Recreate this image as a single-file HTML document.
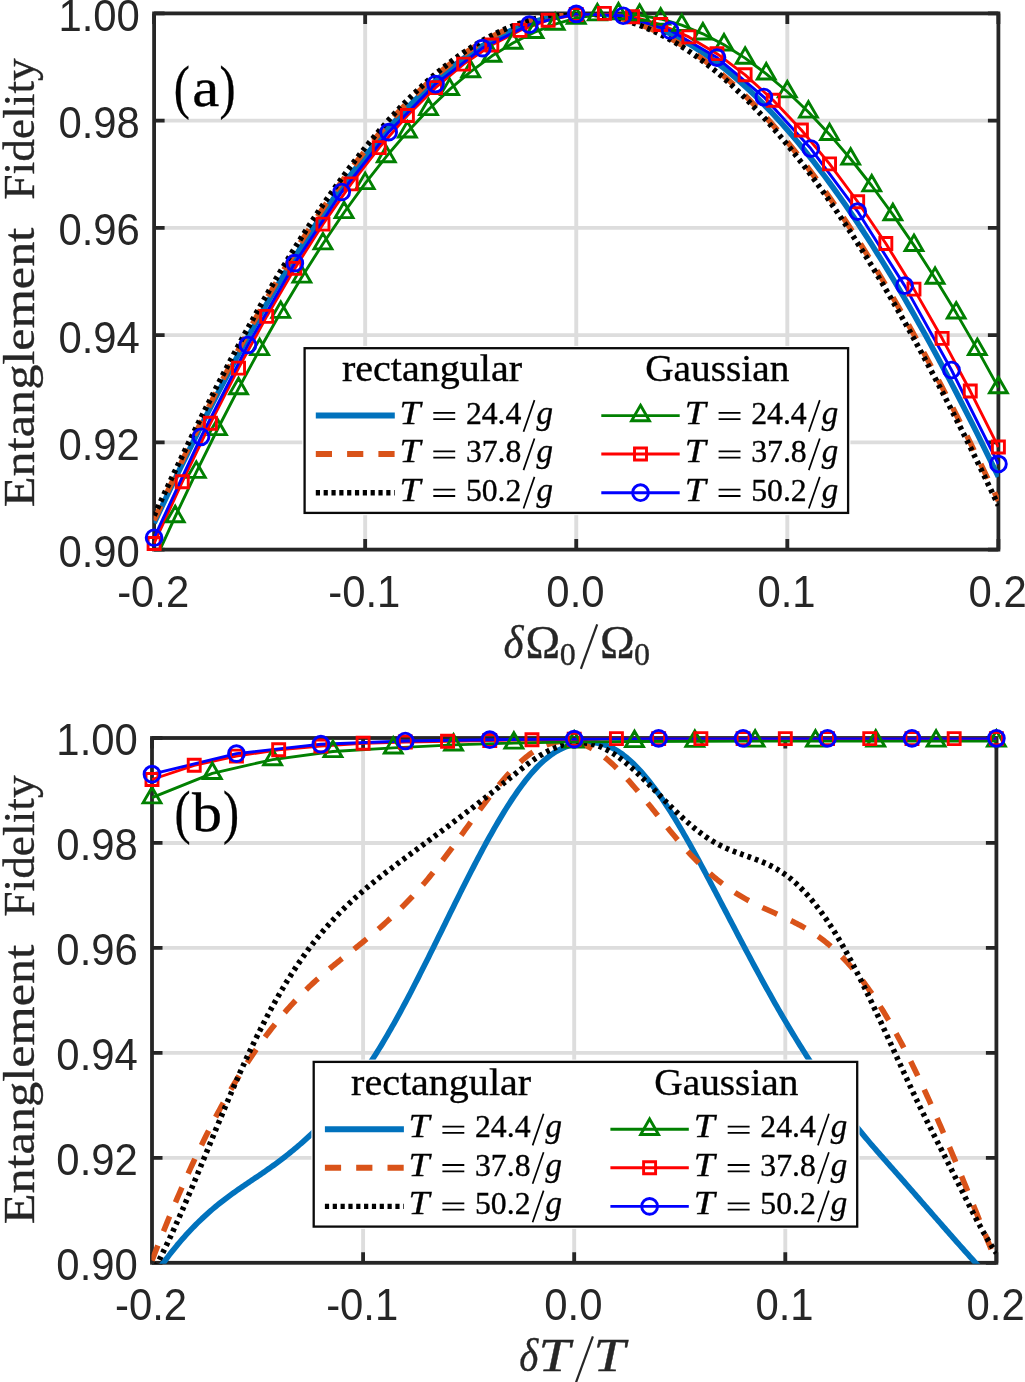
<!DOCTYPE html>
<html lang="en"><head><meta charset="utf-8"><title>Entanglement fidelity</title>
<style>html,body{margin:0;padding:0;background:#fff}svg{display:block;opacity:0.999;will-change:transform}text{white-space:pre}</style></head>
<body>
<svg width="1025" height="1382" viewBox="0 0 1025 1382">
<rect width="1025" height="1382" fill="#fff"/>
<defs>
<clipPath id="ca"><rect x="153.6" y="12.9" width="845.3" height="537.7"/></clipPath>
<clipPath id="cb"><rect x="151.5" y="737.5" width="845.4" height="526.3"/></clipPath>
</defs>
<g id="panel-a">
<path d="M365.17 13.4 V549.6 M576.25 13.4 V549.6 M787.32 13.4 V549.6 M154.1 120.64 H998.4 M154.1 227.88 H998.4 M154.1 335.12 H998.4 M154.1 442.36 H998.4" stroke="#dddddd" stroke-width="3.9" fill="none"/>
<path d="M154.1 549.6 v-10.5 M154.1 13.4 v10.5 M365.17 549.6 v-10.5 M365.17 13.4 v10.5 M576.25 549.6 v-10.5 M576.25 13.4 v10.5 M787.32 549.6 v-10.5 M787.32 13.4 v10.5 M998.4 549.6 v-10.5 M998.4 13.4 v10.5 M154.1 13.4 h10.5 M998.4 13.4 h-10.5 M154.1 120.64 h10.5 M998.4 120.64 h-10.5 M154.1 227.88 h10.5 M998.4 227.88 h-10.5 M154.1 335.12 h10.5 M998.4 335.12 h-10.5 M154.1 442.36 h10.5 M998.4 442.36 h-10.5 M154.1 549.6 h10.5 M998.4 549.6 h-10.5" stroke="#262626" stroke-width="3.8" fill="none"/>
<rect x="154.1" y="13.4" width="844.3" height="536.2" fill="none" stroke="#262626" stroke-width="3.8"/>
<g clip-path="url(#ca)" fill="none" stroke-linejoin="round">
<path d="M154.1 523.18 L159.38 511.91 L164.65 500.73 L169.93 489.64 L175.21 478.63 L180.48 467.72 L185.76 456.9 L191.04 446.17 L196.31 435.54 L201.59 425.01 L206.87 414.58 L212.15 404.26 L217.42 394.03 L222.7 383.92 L227.98 373.91 L233.25 364 L238.53 354.21 L243.81 344.53 L249.08 334.97 L254.36 325.52 L259.64 316.19 L264.91 306.97 L270.19 297.88 L275.47 288.91 L280.75 280.06 L286.02 271.33 L291.3 262.73 L296.58 254.26 L301.85 245.91 L307.13 237.69 L312.41 229.61 L317.68 221.66 L322.96 213.84 L328.24 206.15 L333.51 198.6 L338.79 191.19 L344.07 183.92 L349.34 176.78 L354.62 169.79 L359.9 162.94 L365.17 156.23 L370.45 149.66 L375.73 143.24 L381.01 136.96 L386.28 130.83 L391.56 124.85 L396.84 119.01 L402.11 113.33 L407.39 107.79 L412.67 102.41 L417.94 97.18 L423.22 92.1 L428.5 87.17 L433.77 82.4 L439.05 77.78 L444.33 73.32 L449.61 69.01 L454.88 64.86 L460.16 60.86 L465.44 57.03 L470.71 53.35 L475.99 49.84 L481.27 46.48 L486.54 43.28 L491.82 40.24 L497.1 37.36 L502.37 34.65 L507.65 32.1 L512.93 29.7 L518.2 27.48 L523.48 25.41 L528.76 23.51 L534.03 21.77 L539.31 20.19 L544.59 18.78 L549.87 17.53 L555.14 16.45 L560.42 15.53 L565.7 14.77 L570.97 14.18 L576.25 13.76 L581.53 13.5 L586.8 13.4 L592.08 13.47 L597.36 13.7 L602.63 14.1 L607.91 14.67 L613.19 15.4 L618.46 16.29 L623.74 17.35 L629.02 18.57 L634.3 19.95 L639.57 21.5 L644.85 23.22 L650.13 25.09 L655.4 27.13 L660.68 29.34 L665.96 31.7 L671.23 34.23 L676.51 36.92 L681.79 39.77 L687.06 42.78 L692.34 45.95 L697.62 49.29 L702.89 52.78 L708.17 56.43 L713.45 60.24 L718.73 64.21 L724 68.33 L729.28 72.62 L734.56 77.05 L739.83 81.65 L745.11 86.4 L750.39 91.3 L755.66 96.35 L760.94 101.56 L766.22 106.92 L771.49 112.43 L776.77 118.1 L782.05 123.91 L787.32 129.86 L792.6 135.97 L797.88 142.22 L803.16 148.62 L808.43 155.17 L813.71 161.85 L818.99 168.68 L824.26 175.66 L829.54 182.77 L834.82 190.02 L840.09 197.41 L845.37 204.94 L850.65 212.6 L855.92 220.4 L861.2 228.33 L866.48 236.39 L871.75 244.59 L877.03 252.91 L882.31 261.37 L887.59 269.95 L892.86 278.65 L898.14 287.48 L903.42 296.44 L908.69 305.51 L913.97 314.71 L919.25 324.02 L924.52 333.45 L929.8 343 L935.08 352.66 L940.35 362.43 L945.63 372.31 L950.91 382.31 L956.18 392.41 L961.46 402.61 L966.74 412.93 L972.02 423.34 L977.29 433.85 L982.57 444.47 L987.85 455.18 L993.12 465.98 L998.4 476.88" stroke="#0072bd" stroke-width="5.6"/>
<path d="M154.1 520.44 L159.38 509.04 L164.65 497.73 L169.93 486.51 L175.21 475.37 L180.48 464.34 L185.76 453.39 L191.04 442.55 L196.31 431.8 L201.59 421.16 L206.87 410.62 L212.15 400.18 L217.42 389.85 L222.7 379.63 L227.98 369.52 L233.25 359.53 L238.53 349.64 L243.81 339.88 L249.08 330.23 L254.36 320.7 L259.64 311.29 L264.91 302 L270.19 292.84 L275.47 283.8 L280.75 274.89 L286.02 266.11 L291.3 257.46 L296.58 248.94 L301.85 240.55 L307.13 232.3 L312.41 224.18 L317.68 216.2 L322.96 208.36 L328.24 200.65 L333.51 193.09 L338.79 185.67 L344.07 178.4 L349.34 171.26 L354.62 164.28 L359.9 157.44 L365.17 150.74 L370.45 144.2 L375.73 137.81 L381.01 131.56 L386.28 125.47 L391.56 119.53 L396.84 113.75 L402.11 108.12 L407.39 102.64 L412.67 97.33 L417.94 92.16 L423.22 87.16 L428.5 82.32 L433.77 77.63 L439.05 73.11 L444.33 68.74 L449.61 64.54 L454.88 60.5 L460.16 56.63 L465.44 52.91 L470.71 49.36 L475.99 45.98 L481.27 42.76 L486.54 39.7 L491.82 36.81 L497.1 34.09 L502.37 31.54 L507.65 29.15 L512.93 26.93 L518.2 24.88 L523.48 22.99 L528.76 21.27 L534.03 19.73 L539.31 18.35 L544.59 17.14 L549.87 16.1 L555.14 15.23 L560.42 14.52 L565.7 13.99 L570.97 13.63 L576.25 13.43 L581.53 13.41 L586.8 13.56 L592.08 13.87 L597.36 14.36 L602.63 15.01 L607.91 15.83 L613.19 16.83 L618.46 17.99 L623.74 19.32 L629.02 20.82 L634.3 22.48 L639.57 24.32 L644.85 26.32 L650.13 28.49 L655.4 30.82 L660.68 33.32 L665.96 35.99 L671.23 38.82 L676.51 41.82 L681.79 44.99 L687.06 48.31 L692.34 51.8 L697.62 55.46 L702.89 59.27 L708.17 63.25 L713.45 67.39 L718.73 71.69 L724 76.14 L729.28 80.76 L734.56 85.53 L739.83 90.47 L745.11 95.55 L750.39 100.8 L755.66 106.2 L760.94 111.75 L766.22 117.45 L771.49 123.31 L776.77 129.32 L782.05 135.48 L787.32 141.78 L792.6 148.24 L797.88 154.84 L803.16 161.58 L808.43 168.47 L813.71 175.51 L818.99 182.68 L824.26 190 L829.54 197.46 L834.82 205.05 L840.09 212.78 L845.37 220.65 L850.65 228.65 L855.92 236.78 L861.2 245.05 L866.48 253.44 L871.75 261.97 L877.03 270.62 L882.31 279.4 L887.59 288.3 L892.86 297.32 L898.14 306.46 L903.42 315.73 L908.69 325.11 L913.97 334.61 L919.25 344.22 L924.52 353.94 L929.8 363.77 L935.08 373.72 L940.35 383.77 L945.63 393.92 L950.91 404.18 L956.18 414.54 L961.46 425 L966.74 435.56 L972.02 446.21 L977.29 456.96 L982.57 467.8 L987.85 478.73 L993.12 489.74 L998.4 500.84" stroke="#d95319" stroke-width="5.6" stroke-dasharray="16.2 15.2"/>
<path d="M154.1 515.61 L159.38 504.23 L164.65 492.93 L169.93 481.73 L175.21 470.62 L180.48 459.6 L185.76 448.69 L191.04 437.87 L196.31 427.15 L201.59 416.54 L206.87 406.03 L212.15 395.62 L217.42 385.33 L222.7 375.15 L227.98 365.07 L233.25 355.12 L238.53 345.27 L243.81 335.55 L249.08 325.94 L254.36 316.45 L259.64 307.09 L264.91 297.85 L270.19 288.73 L275.47 279.74 L280.75 270.88 L286.02 262.15 L291.3 253.55 L296.58 245.08 L301.85 236.75 L307.13 228.55 L312.41 220.49 L317.68 212.57 L322.96 204.78 L328.24 197.14 L333.51 189.64 L338.79 182.28 L344.07 175.06 L349.34 167.99 L354.62 161.07 L359.9 154.29 L365.17 147.67 L370.45 141.19 L375.73 134.86 L381.01 128.68 L386.28 122.66 L391.56 116.79 L396.84 111.08 L402.11 105.52 L407.39 100.11 L412.67 94.87 L417.94 89.78 L423.22 84.85 L428.5 80.08 L433.77 75.47 L439.05 71.02 L444.33 66.73 L449.61 62.6 L454.88 58.64 L460.16 54.84 L465.44 51.2 L470.71 47.73 L475.99 44.42 L481.27 41.28 L486.54 38.3 L491.82 35.49 L497.1 32.85 L502.37 30.37 L507.65 28.06 L512.93 25.92 L518.2 23.95 L523.48 22.15 L528.76 20.51 L534.03 19.04 L539.31 17.75 L544.59 16.62 L549.87 15.66 L555.14 14.87 L560.42 14.25 L565.7 13.8 L570.97 13.51 L576.25 13.4 L581.53 13.46 L586.8 13.69 L592.08 14.08 L597.36 14.65 L602.63 15.38 L607.91 16.29 L613.19 17.36 L618.46 18.6 L623.74 20.01 L629.02 21.59 L634.3 23.34 L639.57 25.25 L644.85 27.33 L650.13 29.58 L655.4 32 L660.68 34.58 L665.96 37.32 L671.23 40.24 L676.51 43.31 L681.79 46.55 L687.06 49.96 L692.34 53.52 L697.62 57.25 L702.89 61.14 L708.17 65.2 L713.45 69.41 L718.73 73.78 L724 78.31 L729.28 83 L734.56 87.85 L739.83 92.85 L745.11 98.01 L750.39 103.33 L755.66 108.79 L760.94 114.41 L766.22 120.19 L771.49 126.11 L776.77 132.19 L782.05 138.41 L787.32 144.78 L792.6 151.3 L797.88 157.96 L803.16 164.77 L808.43 171.73 L813.71 178.82 L818.99 186.06 L824.26 193.43 L829.54 200.95 L834.82 208.6 L840.09 216.38 L845.37 224.31 L850.65 232.36 L855.92 240.55 L861.2 248.87 L866.48 257.31 L871.75 265.89 L877.03 274.59 L882.31 283.41 L887.59 292.36 L892.86 301.43 L898.14 310.61 L903.42 319.92 L908.69 329.34 L913.97 338.88 L919.25 348.53 L924.52 358.29 L929.8 368.16 L935.08 378.14 L940.35 388.22 L945.63 398.41 L950.91 408.7 L956.18 419.08 L961.46 429.57 L966.74 440.16 L972.02 450.83 L977.29 461.6 L982.57 472.46 L987.85 483.41 L993.12 494.44 L998.4 505.56" stroke="#000000" stroke-width="5.6" stroke-dasharray="3.7 4.1"/>
<path d="M154.1 562.53 L175.21 516.57 L196.31 472.2 L217.42 429.51 L238.53 388.56 L259.64 349.44 L280.75 312.21 L301.85 276.94 L322.96 243.69 L344.07 212.5 L365.17 183.45 L386.28 156.56 L407.39 131.89 L428.5 109.48 L449.61 89.36 L470.71 71.56 L491.82 56.1 L512.93 43.03 L534.03 32.34 L555.14 24.06 L576.25 18.19 L597.36 14.75 L618.46 13.73 L639.57 15.13 L660.68 18.95 L681.79 25.18 L702.89 33.8 L724 44.79 L745.11 58.13 L766.22 73.8 L787.32 91.75 L808.43 111.97 L829.54 134.4 L850.65 159.01 L871.75 185.75 L892.86 214.56 L913.97 245.39 L935.08 278.17 L956.18 312.86 L977.29 349.37 L998.4 387.63" stroke="#008000" stroke-width="2.9"/>
<path d="M154.1 543.49 L182.24 481.81 L210.39 423.29 L238.53 368.09 L266.67 316.4 L294.82 268.36 L322.96 224.13 L351.1 183.84 L379.25 147.59 L407.39 115.51 L435.53 87.67 L463.68 64.16 L491.82 45.04 L519.96 30.37 L548.11 20.18 L576.25 14.49 L604.39 13.4 L632.54 16.69 L660.68 24.55 L688.82 36.89 L716.97 53.66 L745.11 74.82 L773.25 100.29 L801.4 130 L829.54 163.85 L857.68 201.74 L885.83 243.54 L913.97 289.12 L942.11 338.34 L970.26 391.03 L998.4 447.02" stroke="#ff0000" stroke-width="2.9"/>
<path d="M154.1 537.74 L201.01 436.79 L247.91 344.99 L294.82 263.17 L341.72 192.01 L388.63 132.14 L435.53 84.05 L482.44 48.13 L529.34 24.67 L576.25 13.85 L623.16 15.76 L670.06 30.36 L716.97 57.54 L763.87 97.05 L810.78 148.54 L857.68 211.59 L904.59 285.63 L951.49 370.01 L998.4 463.98" stroke="#0000ff" stroke-width="2.9"/>
</g>
<g fill="none" stroke-width="2.9" stroke-linejoin="miter">
<path d="M175.21 506.27 L184.13 521.72 L166.29 521.72 Z M196.31 461.9 L205.23 477.35 L187.4 477.35 Z M217.42 419.21 L226.34 434.66 L208.5 434.66 Z M238.53 378.26 L247.45 393.71 L229.61 393.71 Z M259.64 339.14 L268.56 354.59 L250.72 354.59 Z M280.75 301.91 L289.66 317.36 L271.83 317.36 Z M301.85 266.64 L310.77 282.09 L292.93 282.09 Z M322.96 233.39 L331.88 248.84 L314.04 248.84 Z M344.07 202.2 L352.99 217.65 L335.15 217.65 Z M365.17 173.15 L374.09 188.6 L356.26 188.6 Z M386.28 146.26 L395.2 161.71 L377.36 161.71 Z M407.39 121.59 L416.31 137.04 L398.47 137.04 Z M428.5 99.18 L437.42 114.63 L419.58 114.63 Z M449.61 79.06 L458.52 94.51 L440.69 94.51 Z M470.71 61.26 L479.63 76.71 L461.79 76.71 Z M491.82 45.8 L500.74 61.25 L482.9 61.25 Z M512.93 32.73 L521.85 48.18 L504.01 48.18 Z M534.03 22.04 L542.95 37.49 L525.12 37.49 Z M555.14 13.76 L564.06 29.21 L546.22 29.21 Z M576.25 7.89 L585.17 23.34 L567.33 23.34 Z M597.36 4.45 L606.28 19.9 L588.44 19.9 Z M618.46 3.43 L627.38 18.88 L609.55 18.88 Z M639.57 4.83 L648.49 20.28 L630.65 20.28 Z M660.68 8.65 L669.6 24.1 L651.76 24.1 Z M681.79 14.88 L690.71 30.33 L672.87 30.33 Z M702.89 23.5 L711.81 38.95 L693.98 38.95 Z M724 34.49 L732.92 49.94 L715.08 49.94 Z M745.11 47.83 L754.03 63.28 L736.19 63.28 Z M766.22 63.5 L775.14 78.95 L757.3 78.95 Z M787.32 81.45 L796.24 96.9 L778.41 96.9 Z M808.43 101.67 L817.35 117.12 L799.51 117.12 Z M829.54 124.1 L838.46 139.55 L820.62 139.55 Z M850.65 148.71 L859.57 164.16 L841.73 164.16 Z M871.75 175.45 L880.67 190.9 L862.84 190.9 Z M892.86 204.26 L901.78 219.71 L883.94 219.71 Z M913.97 235.09 L922.89 250.54 L905.05 250.54 Z M935.08 267.87 L944 283.32 L926.16 283.32 Z M956.18 302.56 L965.1 318.01 L947.27 318.01 Z M977.29 339.07 L986.21 354.52 L968.37 354.52 Z M998.4 377.33 L1007.32 392.78 L989.48 392.78 Z" stroke="#008000"/>
<path d="M148.1 537.49 h12 v12 h-12 Z M176.24 475.81 h12 v12 h-12 Z M204.39 417.29 h12 v12 h-12 Z M232.53 362.09 h12 v12 h-12 Z M260.67 310.4 h12 v12 h-12 Z M288.82 262.36 h12 v12 h-12 Z M316.96 218.13 h12 v12 h-12 Z M345.1 177.84 h12 v12 h-12 Z M373.25 141.59 h12 v12 h-12 Z M401.39 109.51 h12 v12 h-12 Z M429.53 81.67 h12 v12 h-12 Z M457.68 58.16 h12 v12 h-12 Z M485.82 39.04 h12 v12 h-12 Z M513.96 24.37 h12 v12 h-12 Z M542.11 14.18 h12 v12 h-12 Z M570.25 8.49 h12 v12 h-12 Z M598.39 7.4 h12 v12 h-12 Z M626.54 10.69 h12 v12 h-12 Z M654.68 18.55 h12 v12 h-12 Z M682.82 30.89 h12 v12 h-12 Z M710.97 47.66 h12 v12 h-12 Z M739.11 68.82 h12 v12 h-12 Z M767.25 94.29 h12 v12 h-12 Z M795.4 124 h12 v12 h-12 Z M823.54 157.85 h12 v12 h-12 Z M851.68 195.74 h12 v12 h-12 Z M879.83 237.54 h12 v12 h-12 Z M907.97 283.12 h12 v12 h-12 Z M936.11 332.34 h12 v12 h-12 Z M964.26 385.03 h12 v12 h-12 Z M992.4 441.02 h12 v12 h-12 Z" stroke="#ff0000"/>
<g stroke="#0000ff"><circle cx="154.1" cy="537.74" r="7.9"/><circle cx="201.01" cy="436.79" r="7.9"/><circle cx="247.91" cy="344.99" r="7.9"/><circle cx="294.82" cy="263.17" r="7.9"/><circle cx="341.72" cy="192.01" r="7.9"/><circle cx="388.63" cy="132.14" r="7.9"/><circle cx="435.53" cy="84.05" r="7.9"/><circle cx="482.44" cy="48.13" r="7.9"/><circle cx="529.34" cy="24.67" r="7.9"/><circle cx="576.25" cy="13.85" r="7.9"/><circle cx="623.16" cy="15.76" r="7.9"/><circle cx="670.06" cy="30.36" r="7.9"/><circle cx="716.97" cy="57.54" r="7.9"/><circle cx="763.87" cy="97.05" r="7.9"/><circle cx="810.78" cy="148.54" r="7.9"/><circle cx="857.68" cy="211.59" r="7.9"/><circle cx="904.59" cy="285.63" r="7.9"/><circle cx="951.49" cy="370.01" r="7.9"/><circle cx="998.4" cy="463.98" r="7.9"/></g>
</g>
</g>
<g id="panel-b">
<path d="M363.1 738 V1262.8 M574.2 738 V1262.8 M785.3 738 V1262.8 M152 842.96 H996.4 M152 947.92 H996.4 M152 1052.88 H996.4 M152 1157.84 H996.4" stroke="#dddddd" stroke-width="3.9" fill="none"/>
<path d="M152 1262.8 v-10.5 M152 738 v10.5 M363.1 1262.8 v-10.5 M363.1 738 v10.5 M574.2 1262.8 v-10.5 M574.2 738 v10.5 M785.3 1262.8 v-10.5 M785.3 738 v10.5 M996.4 1262.8 v-10.5 M996.4 738 v10.5 M152 738 h10.5 M996.4 738 h-10.5 M152 842.96 h10.5 M996.4 842.96 h-10.5 M152 947.92 h10.5 M996.4 947.92 h-10.5 M152 1052.88 h10.5 M996.4 1052.88 h-10.5 M152 1157.84 h10.5 M996.4 1157.84 h-10.5 M152 1262.8 h10.5 M996.4 1262.8 h-10.5" stroke="#262626" stroke-width="3.8" fill="none"/>
<rect x="152" y="738" width="844.4" height="524.8" fill="none" stroke="#262626" stroke-width="3.8"/>
<g clip-path="url(#cb)" fill="none" stroke-linejoin="round">
<path d="M158 1270.47 L159.65 1268.1 L161.3 1265.78 L162.95 1263.49 L164.6 1261.23 L166.25 1259.01 L167.9 1256.83 L169.55 1254.67 L171.2 1252.56 L172.85 1250.47 L174.5 1248.42 L176.15 1246.4 L177.8 1244.41 L179.45 1242.45 L181.1 1240.53 L182.75 1238.63 L184.4 1236.77 L186.04 1234.93 L187.69 1233.13 L189.34 1231.35 L190.99 1229.6 L192.64 1227.88 L194.29 1226.19 L195.94 1224.52 L197.59 1222.88 L199.24 1221.27 L200.89 1219.68 L202.54 1218.12 L204.19 1216.58 L205.84 1215.07 L207.49 1213.58 L209.14 1212.11 L210.79 1210.67 L212.44 1209.25 L214.09 1207.85 L215.74 1206.48 L217.39 1205.12 L219.04 1203.79 L220.69 1202.47 L222.34 1201.18 L223.99 1199.91 L225.64 1198.65 L227.29 1197.41 L228.94 1196.19 L230.59 1194.98 L232.24 1193.78 L233.89 1192.6 L235.54 1191.43 L237.19 1190.27 L238.84 1189.12 L240.48 1187.98 L242.13 1186.85 L243.78 1185.72 L245.43 1184.6 L247.08 1183.48 L248.73 1182.37 L250.38 1181.26 L252.03 1180.15 L253.68 1179.04 L255.33 1177.93 L256.98 1176.82 L258.63 1175.7 L260.28 1174.58 L261.93 1173.46 L263.58 1172.33 L265.23 1171.19 L266.88 1170.04 L268.53 1168.89 L270.18 1167.73 L271.83 1166.55 L273.48 1165.36 L275.13 1164.16 L276.78 1162.95 L278.43 1161.73 L280.08 1160.49 L281.73 1159.24 L283.38 1157.98 L285.03 1156.7 L286.68 1155.41 L288.33 1154.1 L289.98 1152.78 L291.63 1151.44 L293.28 1150.08 L294.93 1148.71 L296.57 1147.33 L298.22 1145.92 L299.87 1144.5 L301.52 1143.06 L303.17 1141.61 L304.82 1140.13 L306.47 1138.64 L308.12 1137.13 L309.77 1135.59 L311.42 1134.04 L313.07 1132.47 L314.72 1130.88 L316.37 1129.26 L318.02 1127.63 L319.67 1125.97 L321.32 1124.29 L322.97 1122.59 L324.62 1120.87 L326.27 1119.12 L327.92 1117.35 L329.57 1115.56 L331.22 1113.74 L332.87 1111.89 L334.52 1110.03 L336.17 1108.13 L337.82 1106.21 L339.47 1104.27 L341.12 1102.3 L342.77 1100.3 L344.42 1098.28 L346.07 1096.22 L347.72 1094.14 L349.37 1092.04 L351.01 1089.9 L352.66 1087.73 L354.31 1085.54 L355.96 1083.31 L357.61 1081.06 L359.26 1078.78 L360.91 1076.46 L362.56 1074.11 L364.21 1071.74 L365.86 1069.33 L367.51 1066.89 L369.16 1064.41 L370.81 1061.9 L372.46 1059.36 L374.11 1056.79 L375.76 1054.18 L377.41 1051.55 L379.06 1048.88 L380.71 1046.17 L382.36 1043.44 L384.01 1040.68 L385.66 1037.89 L387.31 1035.07 L388.96 1032.22 L390.61 1029.35 L392.26 1026.45 L393.91 1023.52 L395.56 1020.56 L397.21 1017.58 L398.86 1014.58 L400.51 1011.55 L402.16 1008.5 L403.81 1005.43 L405.45 1002.34 L407.1 999.22 L408.75 996.08 L410.4 992.93 L412.05 989.75 L413.7 986.55 L415.35 983.34 L417 980.11 L418.65 976.87 L420.3 973.61 L421.95 970.34 L423.6 967.05 L425.25 963.76 L426.9 960.45 L428.55 957.14 L430.2 953.81 L431.85 950.48 L433.5 947.14 L435.15 943.8 L436.8 940.45 L438.45 937.1 L440.1 933.74 L441.75 930.39 L443.4 927.03 L445.05 923.67 L446.7 920.32 L448.35 916.96 L450 913.61 L451.65 910.27 L453.3 906.92 L454.95 903.59 L456.6 900.26 L458.25 896.94 L459.89 893.63 L461.54 890.33 L463.19 887.04 L464.84 883.77 L466.49 880.5 L468.14 877.25 L469.79 874.02 L471.44 870.8 L473.09 867.6 L474.74 864.41 L476.39 861.25 L478.04 858.1 L479.69 854.98 L481.34 851.88 L482.99 848.8 L484.64 845.74 L486.29 842.71 L487.94 839.7 L489.59 836.73 L491.24 833.78 L492.89 830.85 L494.54 827.96 L496.19 825.1 L497.84 822.27 L499.49 819.47 L501.14 816.71 L502.79 813.98 L504.44 811.29 L506.09 808.63 L507.74 806.02 L509.39 803.44 L511.04 800.9 L512.69 798.41 L514.34 795.95 L515.98 793.55 L517.63 791.18 L519.28 788.87 L520.93 786.6 L522.58 784.38 L524.23 782.21 L525.88 780.09 L527.53 778.02 L529.18 776.01 L530.83 774.05 L532.48 772.14 L534.13 770.3 L535.78 768.51 L537.43 766.78 L539.08 765.11 L540.73 763.5 L542.38 761.96 L544.03 760.48 L545.68 759.06 L547.33 757.71 L548.98 756.43 L550.63 755.21 L552.28 754.05 L553.93 752.96 L555.58 751.93 L557.23 750.95 L558.88 750.04 L560.53 749.18 L562.18 748.38 L563.83 747.63 L565.48 746.93 L567.13 746.29 L568.78 745.7 L570.42 745.16 L572.07 744.67 L573.72 744.23 L575.37 743.83 L577.02 743.48 L578.67 743.18 L580.32 742.91 L581.97 742.7 L583.62 742.52 L585.27 742.4 L586.92 742.33 L588.57 742.3 L590.22 742.32 L591.87 742.4 L593.52 742.52 L595.17 742.7 L596.82 742.94 L598.47 743.23 L600.12 743.57 L601.77 743.98 L603.42 744.44 L605.07 744.96 L606.72 745.54 L608.37 746.18 L610.02 746.89 L611.67 747.66 L613.32 748.49 L614.97 749.39 L616.62 750.35 L618.27 751.38 L619.92 752.47 L621.57 753.63 L623.22 754.84 L624.86 756.12 L626.51 757.45 L628.16 758.85 L629.81 760.3 L631.46 761.81 L633.11 763.37 L634.76 764.99 L636.41 766.66 L638.06 768.38 L639.71 770.15 L641.36 771.97 L643.01 773.85 L644.66 775.77 L646.31 777.74 L647.96 779.76 L649.61 781.82 L651.26 783.93 L652.91 786.08 L654.56 788.28 L656.21 790.53 L657.86 792.82 L659.51 795.15 L661.16 797.52 L662.81 799.93 L664.46 802.38 L666.11 804.88 L667.76 807.41 L669.41 809.97 L671.06 812.57 L672.71 815.21 L674.36 817.88 L676.01 820.58 L677.66 823.32 L679.31 826.08 L680.95 828.88 L682.6 831.7 L684.25 834.54 L685.9 837.42 L687.55 840.32 L689.2 843.24 L690.85 846.18 L692.5 849.14 L694.15 852.13 L695.8 855.13 L697.45 858.15 L699.1 861.19 L700.75 864.24 L702.4 867.31 L704.05 870.39 L705.7 873.49 L707.35 876.59 L709 879.7 L710.65 882.83 L712.3 885.96 L713.95 889.09 L715.6 892.24 L717.25 895.38 L718.9 898.53 L720.55 901.68 L722.2 904.84 L723.85 907.99 L725.5 911.15 L727.15 914.3 L728.8 917.45 L730.45 920.61 L732.1 923.76 L733.75 926.91 L735.39 930.05 L737.04 933.19 L738.69 936.33 L740.34 939.46 L741.99 942.59 L743.64 945.71 L745.29 948.83 L746.94 951.94 L748.59 955.04 L750.24 958.14 L751.89 961.23 L753.54 964.3 L755.19 967.37 L756.84 970.43 L758.49 973.48 L760.14 976.51 L761.79 979.54 L763.44 982.55 L765.09 985.55 L766.74 988.54 L768.39 991.51 L770.04 994.47 L771.69 997.42 L773.34 1000.35 L774.99 1003.26 L776.64 1006.16 L778.29 1009.04 L779.94 1011.9 L781.59 1014.75 L783.24 1017.57 L784.89 1020.39 L786.54 1023.18 L788.19 1025.96 L789.83 1028.72 L791.48 1031.47 L793.13 1034.2 L794.78 1036.91 L796.43 1039.61 L798.08 1042.29 L799.73 1044.95 L801.38 1047.6 L803.03 1050.23 L804.68 1052.85 L806.33 1055.45 L807.98 1058.04 L809.63 1060.61 L811.28 1063.17 L812.93 1065.71 L814.58 1068.23 L816.23 1070.74 L817.88 1073.23 L819.53 1075.7 L821.18 1078.16 L822.83 1080.6 L824.48 1083.03 L826.13 1085.43 L827.78 1087.82 L829.43 1090.2 L831.08 1092.55 L832.73 1094.89 L834.38 1097.21 L836.03 1099.52 L837.68 1101.8 L839.33 1104.07 L840.98 1106.32 L842.63 1108.56 L844.27 1110.77 L845.92 1112.97 L847.57 1115.14 L849.22 1117.3 L850.87 1119.44 L852.52 1121.56 L854.17 1123.66 L855.82 1125.75 L857.47 1127.81 L859.12 1129.86 L860.77 1131.88 L862.42 1133.89 L864.07 1135.88 L865.72 1137.86 L867.37 1139.82 L869.02 1141.76 L870.67 1143.7 L872.32 1145.62 L873.97 1147.53 L875.62 1149.43 L877.27 1151.33 L878.92 1153.21 L880.57 1155.09 L882.22 1156.96 L883.87 1158.83 L885.52 1160.7 L887.17 1162.56 L888.82 1164.42 L890.47 1166.28 L892.12 1168.14 L893.77 1170 L895.42 1171.86 L897.07 1173.73 L898.72 1175.6 L900.36 1177.47 L902.01 1179.34 L903.66 1181.22 L905.31 1183.1 L906.96 1184.98 L908.61 1186.86 L910.26 1188.75 L911.91 1190.64 L913.56 1192.52 L915.21 1194.41 L916.86 1196.3 L918.51 1198.19 L920.16 1200.08 L921.81 1201.98 L923.46 1203.87 L925.11 1205.76 L926.76 1207.65 L928.41 1209.54 L930.06 1211.44 L931.71 1213.33 L933.36 1215.22 L935.01 1217.11 L936.66 1219 L938.31 1220.89 L939.96 1222.77 L941.61 1224.66 L943.26 1226.54 L944.91 1228.42 L946.56 1230.3 L948.21 1232.18 L949.86 1234.06 L951.51 1235.93 L953.16 1237.8 L954.8 1239.67 L956.45 1241.54 L958.1 1243.4 L959.75 1245.26 L961.4 1247.11 L963.05 1248.96 L964.7 1250.81 L966.35 1252.65 L968 1254.49 L969.65 1256.33 L971.3 1258.16 L972.95 1259.99 L974.6 1261.81 L976.25 1263.63 L977.9 1265.44 L979.55 1267.25 L981.2 1269.05" stroke="#0072bd" stroke-width="5.6"/>
<path d="M152 1260.57 L153.69 1256.17 L155.38 1251.81 L157.08 1247.48 L158.77 1243.17 L160.46 1238.9 L162.15 1234.66 L163.85 1230.45 L165.54 1226.27 L167.23 1222.13 L168.92 1218.01 L170.61 1213.93 L172.31 1209.88 L174 1205.86 L175.69 1201.87 L177.38 1197.92 L179.07 1194 L180.77 1190.1 L182.46 1186.24 L184.15 1182.42 L185.84 1178.62 L187.54 1174.86 L189.23 1171.13 L190.92 1167.43 L192.61 1163.76 L194.3 1160.13 L196 1156.52 L197.69 1152.96 L199.38 1149.42 L201.07 1145.91 L202.77 1142.44 L204.46 1139 L206.15 1135.6 L207.84 1132.22 L209.53 1128.88 L211.23 1125.58 L212.92 1122.3 L214.61 1119.06 L216.3 1115.85 L218 1112.67 L219.69 1109.53 L221.38 1106.41 L223.07 1103.33 L224.76 1100.28 L226.46 1097.27 L228.15 1094.29 L229.84 1091.33 L231.53 1088.41 L233.22 1085.53 L234.92 1082.67 L236.61 1079.85 L238.3 1077.06 L239.99 1074.3 L241.69 1071.57 L243.38 1068.87 L245.07 1066.21 L246.76 1063.58 L248.45 1060.98 L250.15 1058.41 L251.84 1055.87 L253.53 1053.36 L255.22 1050.89 L256.92 1048.44 L258.61 1046.03 L260.3 1043.65 L261.99 1041.3 L263.68 1038.97 L265.38 1036.68 L267.07 1034.42 L268.76 1032.19 L270.45 1029.98 L272.15 1027.8 L273.84 1025.66 L275.53 1023.54 L277.22 1021.44 L278.91 1019.38 L280.61 1017.34 L282.3 1015.33 L283.99 1013.34 L285.68 1011.39 L287.37 1009.45 L289.07 1007.55 L290.76 1005.67 L292.45 1003.81 L294.14 1001.98 L295.84 1000.17 L297.53 998.39 L299.22 996.63 L300.91 994.9 L302.6 993.18 L304.3 991.5 L305.99 989.83 L307.68 988.19 L309.37 986.57 L311.07 984.97 L312.76 983.39 L314.45 981.84 L316.14 980.3 L317.83 978.79 L319.53 977.29 L321.22 975.81 L322.91 974.35 L324.6 972.9 L326.29 971.47 L327.99 970.05 L329.68 968.64 L331.37 967.25 L333.06 965.86 L334.76 964.48 L336.45 963.12 L338.14 961.76 L339.83 960.4 L341.52 959.05 L343.22 957.71 L344.91 956.37 L346.6 955.03 L348.29 953.69 L349.99 952.35 L351.68 951.01 L353.37 949.67 L355.06 948.33 L356.75 946.98 L358.45 945.63 L360.14 944.28 L361.83 942.91 L363.52 941.54 L365.22 940.16 L366.91 938.77 L368.6 937.38 L370.29 935.97 L371.98 934.55 L373.68 933.12 L375.37 931.68 L377.06 930.23 L378.75 928.76 L380.44 927.28 L382.14 925.79 L383.83 924.29 L385.52 922.77 L387.21 921.24 L388.91 919.69 L390.6 918.13 L392.29 916.55 L393.98 914.95 L395.67 913.34 L397.37 911.71 L399.06 910.07 L400.75 908.4 L402.44 906.72 L404.14 905.02 L405.83 903.3 L407.52 901.56 L409.21 899.79 L410.9 898.01 L412.6 896.21 L414.29 894.38 L415.98 892.53 L417.67 890.66 L419.37 888.77 L421.06 886.86 L422.75 884.92 L424.44 882.95 L426.13 880.96 L427.83 878.95 L429.52 876.91 L431.21 874.84 L432.9 872.75 L434.59 870.63 L436.29 868.5 L437.98 866.34 L439.67 864.17 L441.36 861.97 L443.06 859.76 L444.75 857.53 L446.44 855.29 L448.13 853.03 L449.82 850.76 L451.52 848.48 L453.21 846.19 L454.9 843.88 L456.59 841.58 L458.29 839.26 L459.98 836.94 L461.67 834.61 L463.36 832.28 L465.05 829.95 L466.75 827.62 L468.44 825.29 L470.13 822.96 L471.82 820.63 L473.52 818.3 L475.21 815.99 L476.9 813.68 L478.59 811.38 L480.28 809.08 L481.98 806.81 L483.67 804.54 L485.36 802.29 L487.05 800.06 L488.74 797.85 L490.44 795.66 L492.13 793.49 L493.82 791.34 L495.51 789.22 L497.21 787.12 L498.9 785.06 L500.59 783.02 L502.28 781.01 L503.97 779.04 L505.67 777.11 L507.36 775.21 L509.05 773.35 L510.74 771.52 L512.44 769.74 L514.13 768 L515.82 766.31 L517.51 764.67 L519.2 763.07 L520.9 761.52 L522.59 760.02 L524.28 758.57 L525.97 757.18 L527.66 755.85 L529.36 754.57 L531.05 753.35 L532.74 752.18 L534.43 751.08 L536.13 750.03 L537.82 749.04 L539.51 748.11 L541.2 747.23 L542.89 746.42 L544.59 745.66 L546.28 744.96 L547.97 744.32 L549.66 743.74 L551.36 743.22 L553.05 742.75 L554.74 742.35 L556.43 742 L558.12 741.72 L559.82 741.49 L561.51 741.32 L563.2 741.22 L564.89 741.17 L566.59 741.18 L568.28 741.26 L569.97 741.39 L571.66 741.58 L573.35 741.84 L575.05 742.15 L576.74 742.53 L578.43 742.96 L580.12 743.46 L581.81 744.02 L583.51 744.64 L585.2 745.32 L586.89 746.06 L588.58 746.86 L590.28 747.73 L591.97 748.65 L593.66 749.64 L595.35 750.68 L597.04 751.78 L598.74 752.93 L600.43 754.13 L602.12 755.39 L603.81 756.7 L605.51 758.05 L607.2 759.45 L608.89 760.9 L610.58 762.39 L612.27 763.92 L613.97 765.49 L615.66 767.1 L617.35 768.75 L619.04 770.44 L620.74 772.16 L622.43 773.91 L624.12 775.7 L625.81 777.51 L627.5 779.36 L629.2 781.23 L630.89 783.13 L632.58 785.05 L634.27 786.99 L635.96 788.96 L637.66 790.94 L639.35 792.95 L641.04 794.97 L642.73 797 L644.43 799.05 L646.12 801.11 L647.81 803.18 L649.5 805.27 L651.19 807.35 L652.89 809.45 L654.58 811.55 L656.27 813.65 L657.96 815.75 L659.66 817.86 L661.35 819.96 L663.04 822.06 L664.73 824.16 L666.42 826.25 L668.12 828.33 L669.81 830.4 L671.5 832.47 L673.19 834.52 L674.88 836.56 L676.58 838.58 L678.27 840.59 L679.96 842.58 L681.65 844.54 L683.35 846.49 L685.04 848.42 L686.73 850.32 L688.42 852.2 L690.11 854.05 L691.81 855.87 L693.5 857.66 L695.19 859.42 L696.88 861.15 L698.58 862.85 L700.27 864.52 L701.96 866.16 L703.65 867.77 L705.34 869.36 L707.04 870.91 L708.73 872.43 L710.42 873.93 L712.11 875.39 L713.81 876.83 L715.5 878.24 L717.19 879.63 L718.88 880.98 L720.57 882.31 L722.27 883.61 L723.96 884.89 L725.65 886.13 L727.34 887.36 L729.03 888.55 L730.73 889.72 L732.42 890.86 L734.11 891.98 L735.8 893.07 L737.5 894.14 L739.19 895.18 L740.88 896.2 L742.57 897.2 L744.26 898.17 L745.96 899.11 L747.65 900.04 L749.34 900.95 L751.03 901.84 L752.73 902.71 L754.42 903.57 L756.11 904.41 L757.8 905.24 L759.49 906.05 L761.19 906.86 L762.88 907.66 L764.57 908.44 L766.26 909.22 L767.96 910 L769.65 910.77 L771.34 911.54 L773.03 912.3 L774.72 913.07 L776.42 913.83 L778.11 914.6 L779.8 915.37 L781.49 916.14 L783.18 916.92 L784.88 917.71 L786.57 918.5 L788.26 919.31 L789.95 920.12 L791.65 920.95 L793.34 921.79 L795.03 922.64 L796.72 923.51 L798.41 924.4 L800.11 925.3 L801.8 926.23 L803.49 927.17 L805.18 928.14 L806.88 929.13 L808.57 930.15 L810.26 931.19 L811.95 932.25 L813.64 933.35 L815.34 934.47 L817.03 935.63 L818.72 936.82 L820.41 938.04 L822.11 939.29 L823.8 940.59 L825.49 941.91 L827.18 943.28 L828.87 944.68 L830.57 946.13 L832.26 947.61 L833.95 949.13 L835.64 950.68 L837.33 952.28 L839.03 953.92 L840.72 955.59 L842.41 957.31 L844.1 959.06 L845.8 960.85 L847.49 962.69 L849.18 964.56 L850.87 966.48 L852.56 968.44 L854.26 970.43 L855.95 972.47 L857.64 974.55 L859.33 976.67 L861.03 978.84 L862.72 981.04 L864.41 983.29 L866.1 985.58 L867.79 987.91 L869.49 990.29 L871.18 992.7 L872.87 995.16 L874.56 997.67 L876.25 1000.22 L877.95 1002.81 L879.64 1005.45 L881.33 1008.13 L883.02 1010.85 L884.72 1013.62 L886.41 1016.44 L888.1 1019.3 L889.79 1022.2 L891.48 1025.14 L893.18 1028.13 L894.87 1031.16 L896.56 1034.23 L898.25 1037.34 L899.95 1040.49 L901.64 1043.68 L903.33 1046.9 L905.02 1050.17 L906.71 1053.47 L908.41 1056.81 L910.1 1060.18 L911.79 1063.59 L913.48 1067.03 L915.18 1070.51 L916.87 1074.02 L918.56 1077.56 L920.25 1081.13 L921.94 1084.74 L923.64 1088.37 L925.33 1092.03 L927.02 1095.73 L928.71 1099.45 L930.4 1103.2 L932.1 1106.97 L933.79 1110.78 L935.48 1114.6 L937.17 1118.46 L938.87 1122.33 L940.56 1126.23 L942.25 1130.15 L943.94 1134.09 L945.63 1138.05 L947.33 1142.03 L949.02 1146.03 L950.71 1150.05 L952.4 1154.08 L954.1 1158.13 L955.79 1162.2 L957.48 1166.28 L959.17 1170.38 L960.86 1174.49 L962.56 1178.61 L964.25 1182.74 L965.94 1186.88 L967.63 1191.03 L969.33 1195.19 L971.02 1199.36 L972.71 1203.54 L974.4 1207.72 L976.09 1211.91 L977.79 1216.11 L979.48 1220.31 L981.17 1224.51 L982.86 1228.71 L984.55 1232.92 L986.25 1237.13 L987.94 1241.33 L989.63 1245.54 L991.32 1249.74 L993.02 1253.95 L994.71 1258.15 L996.4 1262.34" stroke="#d95319" stroke-width="5.6" stroke-dasharray="16.2 15.2"/>
<path d="M152 1273.5 L153.69 1270.4 L155.38 1267.23 L157.08 1264.01 L158.77 1260.73 L160.46 1257.39 L162.15 1254 L163.85 1250.55 L165.54 1247.06 L167.23 1243.52 L168.92 1239.93 L170.61 1236.3 L172.31 1232.62 L174 1228.91 L175.69 1225.15 L177.38 1221.36 L179.07 1217.54 L180.77 1213.68 L182.46 1209.79 L184.15 1205.87 L185.84 1201.93 L187.54 1197.95 L189.23 1193.96 L190.92 1189.94 L192.61 1185.91 L194.3 1181.85 L196 1177.78 L197.69 1173.7 L199.38 1169.6 L201.07 1165.5 L202.77 1161.38 L204.46 1157.26 L206.15 1153.14 L207.84 1149.01 L209.53 1144.88 L211.23 1140.76 L212.92 1136.63 L214.61 1132.51 L216.3 1128.4 L218 1124.3 L219.69 1120.21 L221.38 1116.13 L223.07 1112.06 L224.76 1108.01 L226.46 1103.98 L228.15 1099.97 L229.84 1095.98 L231.53 1092.02 L233.22 1088.08 L234.92 1084.17 L236.61 1080.29 L238.3 1076.44 L239.99 1072.62 L241.69 1068.84 L243.38 1065.1 L245.07 1061.39 L246.76 1057.71 L248.45 1054.08 L250.15 1050.47 L251.84 1046.91 L253.53 1043.38 L255.22 1039.89 L256.92 1036.43 L258.61 1033.01 L260.3 1029.63 L261.99 1026.28 L263.68 1022.98 L265.38 1019.71 L267.07 1016.47 L268.76 1013.28 L270.45 1010.12 L272.15 1007 L273.84 1003.92 L275.53 1000.88 L277.22 997.87 L278.91 994.91 L280.61 991.98 L282.3 989.09 L283.99 986.24 L285.68 983.43 L287.37 980.66 L289.07 977.93 L290.76 975.24 L292.45 972.59 L294.14 969.98 L295.84 967.4 L297.53 964.87 L299.22 962.38 L300.91 959.92 L302.6 957.5 L304.3 955.12 L305.99 952.78 L307.68 950.47 L309.37 948.2 L311.07 945.96 L312.76 943.76 L314.45 941.59 L316.14 939.45 L317.83 937.35 L319.53 935.28 L321.22 933.24 L322.91 931.22 L324.6 929.24 L326.29 927.29 L327.99 925.37 L329.68 923.47 L331.37 921.61 L333.06 919.77 L334.76 917.95 L336.45 916.16 L338.14 914.4 L339.83 912.66 L341.52 910.95 L343.22 909.26 L344.91 907.59 L346.6 905.94 L348.29 904.32 L349.99 902.71 L351.68 901.13 L353.37 899.56 L355.06 898.02 L356.75 896.49 L358.45 894.98 L360.14 893.49 L361.83 892.02 L363.52 890.56 L365.22 889.11 L366.91 887.68 L368.6 886.27 L370.29 884.87 L371.98 883.48 L373.68 882.1 L375.37 880.74 L377.06 879.39 L378.75 878.05 L380.44 876.71 L382.14 875.39 L383.83 874.08 L385.52 872.77 L387.21 871.47 L388.91 870.18 L390.6 868.9 L392.29 867.62 L393.98 866.35 L395.67 865.08 L397.37 863.81 L399.06 862.55 L400.75 861.29 L402.44 860.03 L404.14 858.78 L405.83 857.52 L407.52 856.27 L409.21 855.02 L410.9 853.76 L412.6 852.51 L414.29 851.26 L415.98 850.01 L417.67 848.75 L419.37 847.5 L421.06 846.25 L422.75 845 L424.44 843.75 L426.13 842.49 L427.83 841.24 L429.52 839.99 L431.21 838.73 L432.9 837.48 L434.59 836.22 L436.29 834.97 L437.98 833.71 L439.67 832.45 L441.36 831.19 L443.06 829.93 L444.75 828.67 L446.44 827.41 L448.13 826.14 L449.82 824.87 L451.52 823.6 L453.21 822.33 L454.9 821.06 L456.59 819.79 L458.29 818.51 L459.98 817.23 L461.67 815.95 L463.36 814.67 L465.05 813.38 L466.75 812.1 L468.44 810.8 L470.13 809.51 L471.82 808.21 L473.52 806.92 L475.21 805.61 L476.9 804.31 L478.59 803 L480.28 801.69 L481.98 800.37 L483.67 799.05 L485.36 797.73 L487.05 796.41 L488.74 795.08 L490.44 793.74 L492.13 792.4 L493.82 791.06 L495.51 789.72 L497.21 788.37 L498.9 787.01 L500.59 785.65 L502.28 784.29 L503.97 782.92 L505.67 781.55 L507.36 780.18 L509.05 778.8 L510.74 777.42 L512.44 776.05 L514.13 774.68 L515.82 773.31 L517.51 771.96 L519.2 770.61 L520.9 769.28 L522.59 767.96 L524.28 766.65 L525.97 765.37 L527.66 764.1 L529.36 762.86 L531.05 761.63 L532.74 760.44 L534.43 759.27 L536.13 758.13 L537.82 757.02 L539.51 755.94 L541.2 754.9 L542.89 753.89 L544.59 752.93 L546.28 752 L547.97 751.11 L549.66 750.26 L551.36 749.46 L553.05 748.69 L554.74 747.97 L556.43 747.29 L558.12 746.65 L559.82 746.06 L561.51 745.51 L563.2 745.01 L564.89 744.56 L566.59 744.15 L568.28 743.79 L569.97 743.47 L571.66 743.21 L573.35 742.99 L575.05 742.82 L576.74 742.71 L578.43 742.64 L580.12 742.63 L581.81 742.67 L583.51 742.76 L585.2 742.91 L586.89 743.11 L588.58 743.36 L590.28 743.67 L591.97 744.04 L593.66 744.46 L595.35 744.94 L597.04 745.48 L598.74 746.08 L600.43 746.73 L602.12 747.45 L603.81 748.23 L605.51 749.06 L607.2 749.95 L608.89 750.89 L610.58 751.88 L612.27 752.92 L613.97 754.02 L615.66 755.15 L617.35 756.34 L619.04 757.56 L620.74 758.83 L622.43 760.14 L624.12 761.48 L625.81 762.86 L627.5 764.27 L629.2 765.72 L630.89 767.2 L632.58 768.7 L634.27 770.24 L635.96 771.79 L637.66 773.38 L639.35 774.98 L641.04 776.6 L642.73 778.24 L644.43 779.9 L646.12 781.57 L647.81 783.26 L649.5 784.95 L651.19 786.66 L652.89 788.37 L654.58 790.09 L656.27 791.81 L657.96 793.53 L659.66 795.26 L661.35 796.98 L663.04 798.7 L664.73 800.42 L666.42 802.13 L668.12 803.83 L669.81 805.51 L671.5 807.19 L673.19 808.86 L674.88 810.5 L676.58 812.14 L678.27 813.75 L679.96 815.35 L681.65 816.92 L683.35 818.48 L685.04 820.02 L686.73 821.53 L688.42 823.02 L690.11 824.48 L691.81 825.92 L693.5 827.34 L695.19 828.72 L696.88 830.08 L698.58 831.41 L700.27 832.71 L701.96 833.98 L703.65 835.21 L705.34 836.41 L707.04 837.58 L708.73 838.71 L710.42 839.8 L712.11 840.86 L713.81 841.88 L715.5 842.86 L717.19 843.8 L718.88 844.7 L720.57 845.56 L722.27 846.39 L723.96 847.2 L725.65 847.97 L727.34 848.71 L729.03 849.44 L730.73 850.13 L732.42 850.81 L734.11 851.48 L735.8 852.12 L737.5 852.76 L739.19 853.38 L740.88 853.99 L742.57 854.6 L744.26 855.2 L745.96 855.8 L747.65 856.41 L749.34 857.01 L751.03 857.62 L752.73 858.24 L754.42 858.86 L756.11 859.5 L757.8 860.15 L759.49 860.82 L761.19 861.51 L762.88 862.21 L764.57 862.94 L766.26 863.7 L767.96 864.48 L769.65 865.29 L771.34 866.13 L773.03 867.01 L774.72 867.93 L776.42 868.88 L778.11 869.87 L779.8 870.91 L781.49 871.99 L783.18 873.12 L784.88 874.3 L786.57 875.53 L788.26 876.82 L789.95 878.15 L791.65 879.54 L793.34 880.98 L795.03 882.48 L796.72 884.02 L798.41 885.62 L800.11 887.27 L801.8 888.97 L803.49 890.73 L805.18 892.53 L806.88 894.39 L808.57 896.3 L810.26 898.26 L811.95 900.28 L813.64 902.34 L815.34 904.46 L817.03 906.62 L818.72 908.84 L820.41 911.11 L822.11 913.43 L823.8 915.8 L825.49 918.22 L827.18 920.7 L828.87 923.22 L830.57 925.8 L832.26 928.42 L833.95 931.1 L835.64 933.82 L837.33 936.6 L839.03 939.43 L840.72 942.3 L842.41 945.23 L844.1 948.21 L845.8 951.23 L847.49 954.31 L849.18 957.43 L850.87 960.59 L852.56 963.8 L854.26 967.05 L855.95 970.34 L857.64 973.66 L859.33 977.02 L861.03 980.42 L862.72 983.84 L864.41 987.3 L866.1 990.79 L867.79 994.3 L869.49 997.84 L871.18 1001.4 L872.87 1004.99 L874.56 1008.59 L876.25 1012.22 L877.95 1015.86 L879.64 1019.51 L881.33 1023.18 L883.02 1026.86 L884.72 1030.55 L886.41 1034.25 L888.1 1037.96 L889.79 1041.67 L891.48 1045.39 L893.18 1049.1 L894.87 1052.82 L896.56 1056.53 L898.25 1060.24 L899.95 1063.94 L901.64 1067.64 L903.33 1071.33 L905.02 1075.01 L906.71 1078.68 L908.41 1082.34 L910.1 1085.98 L911.79 1089.6 L913.48 1093.21 L915.18 1096.79 L916.87 1100.36 L918.56 1103.9 L920.25 1107.42 L921.94 1110.91 L923.64 1114.38 L925.33 1117.81 L927.02 1121.23 L928.71 1124.62 L930.4 1127.99 L932.1 1131.35 L933.79 1134.69 L935.48 1138.03 L937.17 1141.35 L938.87 1144.68 L940.56 1148 L942.25 1151.32 L943.94 1154.65 L945.63 1157.98 L947.33 1161.33 L949.02 1164.69 L950.71 1168.07 L952.4 1171.46 L954.1 1174.87 L955.79 1178.29 L957.48 1181.71 L959.17 1185.14 L960.86 1188.57 L962.56 1191.99 L964.25 1195.4 L965.94 1198.8 L967.63 1202.18 L969.33 1205.54 L971.02 1208.88 L972.71 1212.19 L974.4 1215.46 L976.09 1218.7 L977.79 1221.89 L979.48 1225.04 L981.17 1228.14 L982.86 1231.19 L984.55 1234.18 L986.25 1237.11 L987.94 1239.98 L989.63 1242.77 L991.32 1245.5 L993.02 1248.14 L994.71 1250.71 L996.4 1253.19" stroke="#000000" stroke-width="5.6" stroke-dasharray="3.7 4.1"/>
<path d="M152 797.7 L212.31 773.3 L272.63 759.6 L332.94 751.5 L393.26 747.9 L453.57 744.9 L513.89 743 L574.2 741.9 L634.51 741.5 L694.83 741.2 L755.14 741 L815.46 741 L875.77 741 L936.09 741 L996.4 741" stroke="#008000" stroke-width="2.9"/>
<path d="M152 779.5 L194.22 765.3 L236.44 756.1 L278.66 749.7 L320.88 746 L363.1 743.2 L405.32 742 L447.54 741.3 L489.76 740.5 L531.98 739.7 L574.2 739.2 L616.42 738.6 L658.64 738.6 L700.86 738.6 L743.08 738.6 L785.3 738.6 L827.52 738.6 L869.74 738.6 L911.96 738.6 L954.18 738.6 L996.4 738.6" stroke="#ff0000" stroke-width="2.9"/>
<path d="M152 774.2 L236.44 753.6 L320.88 744.2 L405.32 741 L489.76 739.7 L574.2 739.1 L658.64 738.3 L743.08 738.3 L827.52 738.3 L911.96 738.3 L996.4 738.3" stroke="#0000ff" stroke-width="2.9"/>
</g>
<g fill="none" stroke-width="2.9" stroke-linejoin="miter">
<path d="M152 787.4 L160.92 802.85 L143.08 802.85 Z M212.31 763 L221.23 778.45 L203.39 778.45 Z M272.63 749.3 L281.55 764.75 L263.71 764.75 Z M332.94 741.2 L341.86 756.65 L324.02 756.65 Z M393.26 737.6 L402.18 753.05 L384.34 753.05 Z M453.57 734.6 L462.49 750.05 L444.65 750.05 Z M513.89 732.7 L522.81 748.15 L504.97 748.15 Z M574.2 731.6 L583.12 747.05 L565.28 747.05 Z M634.51 731.2 L643.43 746.65 L625.59 746.65 Z M694.83 730.9 L703.75 746.35 L685.91 746.35 Z M755.14 730.7 L764.06 746.15 L746.22 746.15 Z M815.46 730.7 L824.38 746.15 L806.54 746.15 Z M875.77 730.7 L884.69 746.15 L866.85 746.15 Z M936.09 730.7 L945.01 746.15 L927.17 746.15 Z M996.4 730.7 L1005.32 746.15 L987.48 746.15 Z" stroke="#008000"/>
<path d="M146 773.5 h12 v12 h-12 Z M188.22 759.3 h12 v12 h-12 Z M230.44 750.1 h12 v12 h-12 Z M272.66 743.7 h12 v12 h-12 Z M314.88 740 h12 v12 h-12 Z M357.1 737.2 h12 v12 h-12 Z M399.32 736 h12 v12 h-12 Z M441.54 735.3 h12 v12 h-12 Z M483.76 734.5 h12 v12 h-12 Z M525.98 733.7 h12 v12 h-12 Z M568.2 733.2 h12 v12 h-12 Z M610.42 732.6 h12 v12 h-12 Z M652.64 732.6 h12 v12 h-12 Z M694.86 732.6 h12 v12 h-12 Z M737.08 732.6 h12 v12 h-12 Z M779.3 732.6 h12 v12 h-12 Z M821.52 732.6 h12 v12 h-12 Z M863.74 732.6 h12 v12 h-12 Z M905.96 732.6 h12 v12 h-12 Z M948.18 732.6 h12 v12 h-12 Z M990.4 732.6 h12 v12 h-12 Z" stroke="#ff0000"/>
<g stroke="#0000ff"><circle cx="152" cy="774.2" r="7.9"/><circle cx="236.44" cy="753.6" r="7.9"/><circle cx="320.88" cy="744.2" r="7.9"/><circle cx="405.32" cy="741" r="7.9"/><circle cx="489.76" cy="739.7" r="7.9"/><circle cx="574.2" cy="739.1" r="7.9"/><circle cx="658.64" cy="738.3" r="7.9"/><circle cx="743.08" cy="738.3" r="7.9"/><circle cx="827.52" cy="738.3" r="7.9"/><circle cx="911.96" cy="738.3" r="7.9"/><circle cx="996.4" cy="738.3" r="7.9"/></g>
</g>
</g>
<g font-family="'Liberation Serif', serif" fill="#000" stroke="#000" stroke-width="0.35">
<g transform="translate(0 0)">
<rect x="302.3" y="345.9" width="548.1" height="169.3" fill="#fff" stroke="none"/>
<rect x="304.6" y="348.2" width="543.5" height="164.7" fill="#fff" stroke="#0a0a0a" stroke-width="2.3"/>
<path d="M315.8 415.6 H394.8" stroke="#0072bd" stroke-width="6"/>
<path d="M315.8 454 H394.8" stroke="#d95319" stroke-width="6" stroke-dasharray="16.2 15.1"/>
<path d="M315.8 492.7 H394.8" stroke="#000000" stroke-width="5.4" stroke-dasharray="4.2 3.63"/>
<path d="M601.3 415.6 H679.7" stroke="#008000" stroke-width="2.9"/>
<path d="M601.3 454 H679.7" stroke="#ff0000" stroke-width="2.9"/>
<path d="M601.3 492.7 H679.7" stroke="#0000ff" stroke-width="2.9"/>
<path d="M640.5 405.3 L649.42 420.75 L631.58 420.75 Z" fill="none" stroke="#008000" stroke-width="2.9"/>
<path d="M634.5 448 h12 v12 h-12 Z" fill="none" stroke="#ff0000" stroke-width="2.9"/>
<circle cx="640.5" cy="492.7" r="7.9" fill="none" stroke="#0000ff" stroke-width="2.9"/>
<text x="342.0" y="381" font-size="37.5" textLength="180" lengthAdjust="spacingAndGlyphs">rectangular</text>
<text x="645.2" y="381.3" font-size="37.5" textLength="144.2" lengthAdjust="spacingAndGlyphs">Gaussian</text>
<text x="399.4" y="423.7" font-size="33" font-style="italic" textLength="21" lengthAdjust="spacingAndGlyphs">T</text>
<path d="M433.3 412.9 h21.9 M433.3 419.2 h21.9" stroke="#000" stroke-width="1.8" fill="none"/>
<text x="465.9" y="423.7" font-size="31.5" textLength="55.5" lengthAdjust="spacingAndGlyphs">24.4</text>
<path d="M523.5 431.7 L534.5 400.1" stroke="#000" stroke-width="1.7" fill="none"/>
<text x="536.4" y="423.7" font-size="33" font-style="italic">g</text>
<text x="399.4" y="462.1" font-size="33" font-style="italic" textLength="21" lengthAdjust="spacingAndGlyphs">T</text>
<path d="M433.3 451.3 h21.9 M433.3 457.6 h21.9" stroke="#000" stroke-width="1.8" fill="none"/>
<text x="465.9" y="462.1" font-size="31.5" textLength="55.5" lengthAdjust="spacingAndGlyphs">37.8</text>
<path d="M523.5 470.1 L534.5 438.5" stroke="#000" stroke-width="1.7" fill="none"/>
<text x="536.4" y="462.1" font-size="33" font-style="italic">g</text>
<text x="399.4" y="500.5" font-size="33" font-style="italic" textLength="21" lengthAdjust="spacingAndGlyphs">T</text>
<path d="M433.3 489.7 h21.9 M433.3 496 h21.9" stroke="#000" stroke-width="1.8" fill="none"/>
<text x="465.9" y="500.5" font-size="31.5" textLength="55.5" lengthAdjust="spacingAndGlyphs">50.2</text>
<path d="M523.5 508.5 L534.5 476.9" stroke="#000" stroke-width="1.7" fill="none"/>
<text x="536.4" y="500.5" font-size="33" font-style="italic">g</text>
<text x="684.7" y="423.7" font-size="33" font-style="italic" textLength="21" lengthAdjust="spacingAndGlyphs">T</text>
<path d="M718.6 412.9 h21.9 M718.6 419.2 h21.9" stroke="#000" stroke-width="1.8" fill="none"/>
<text x="751.2" y="423.7" font-size="31.5" textLength="55.5" lengthAdjust="spacingAndGlyphs">24.4</text>
<path d="M808.8 431.7 L819.8 400.1" stroke="#000" stroke-width="1.7" fill="none"/>
<text x="821.7" y="423.7" font-size="33" font-style="italic">g</text>
<text x="684.7" y="462.1" font-size="33" font-style="italic" textLength="21" lengthAdjust="spacingAndGlyphs">T</text>
<path d="M718.6 451.3 h21.9 M718.6 457.6 h21.9" stroke="#000" stroke-width="1.8" fill="none"/>
<text x="751.2" y="462.1" font-size="31.5" textLength="55.5" lengthAdjust="spacingAndGlyphs">37.8</text>
<path d="M808.8 470.1 L819.8 438.5" stroke="#000" stroke-width="1.7" fill="none"/>
<text x="821.7" y="462.1" font-size="33" font-style="italic">g</text>
<text x="684.7" y="500.5" font-size="33" font-style="italic" textLength="21" lengthAdjust="spacingAndGlyphs">T</text>
<path d="M718.6 489.7 h21.9 M718.6 496 h21.9" stroke="#000" stroke-width="1.8" fill="none"/>
<text x="751.2" y="500.5" font-size="31.5" textLength="55.5" lengthAdjust="spacingAndGlyphs">50.2</text>
<path d="M808.8 508.5 L819.8 476.9" stroke="#000" stroke-width="1.7" fill="none"/>
<text x="821.7" y="500.5" font-size="33" font-style="italic">g</text>
</g>
<g transform="translate(9.1 713.7)">
<rect x="302.3" y="345.9" width="548.1" height="169.3" fill="#fff" stroke="none"/>
<rect x="304.6" y="348.2" width="543.5" height="164.7" fill="#fff" stroke="#0a0a0a" stroke-width="2.3"/>
<path d="M315.8 415.6 H394.8" stroke="#0072bd" stroke-width="6"/>
<path d="M315.8 454 H394.8" stroke="#d95319" stroke-width="6" stroke-dasharray="16.2 15.1"/>
<path d="M315.8 492.7 H394.8" stroke="#000000" stroke-width="5.4" stroke-dasharray="4.2 3.63"/>
<path d="M601.3 415.6 H679.7" stroke="#008000" stroke-width="2.9"/>
<path d="M601.3 454 H679.7" stroke="#ff0000" stroke-width="2.9"/>
<path d="M601.3 492.7 H679.7" stroke="#0000ff" stroke-width="2.9"/>
<path d="M640.5 405.3 L649.42 420.75 L631.58 420.75 Z" fill="none" stroke="#008000" stroke-width="2.9"/>
<path d="M634.5 448 h12 v12 h-12 Z" fill="none" stroke="#ff0000" stroke-width="2.9"/>
<circle cx="640.5" cy="492.7" r="7.9" fill="none" stroke="#0000ff" stroke-width="2.9"/>
<text x="342.0" y="381" font-size="37.5" textLength="180" lengthAdjust="spacingAndGlyphs">rectangular</text>
<text x="645.2" y="381.3" font-size="37.5" textLength="144.2" lengthAdjust="spacingAndGlyphs">Gaussian</text>
<text x="399.4" y="423.7" font-size="33" font-style="italic" textLength="21" lengthAdjust="spacingAndGlyphs">T</text>
<path d="M433.3 412.9 h21.9 M433.3 419.2 h21.9" stroke="#000" stroke-width="1.8" fill="none"/>
<text x="465.9" y="423.7" font-size="31.5" textLength="55.5" lengthAdjust="spacingAndGlyphs">24.4</text>
<path d="M523.5 431.7 L534.5 400.1" stroke="#000" stroke-width="1.7" fill="none"/>
<text x="536.4" y="423.7" font-size="33" font-style="italic">g</text>
<text x="399.4" y="462.1" font-size="33" font-style="italic" textLength="21" lengthAdjust="spacingAndGlyphs">T</text>
<path d="M433.3 451.3 h21.9 M433.3 457.6 h21.9" stroke="#000" stroke-width="1.8" fill="none"/>
<text x="465.9" y="462.1" font-size="31.5" textLength="55.5" lengthAdjust="spacingAndGlyphs">37.8</text>
<path d="M523.5 470.1 L534.5 438.5" stroke="#000" stroke-width="1.7" fill="none"/>
<text x="536.4" y="462.1" font-size="33" font-style="italic">g</text>
<text x="399.4" y="500.5" font-size="33" font-style="italic" textLength="21" lengthAdjust="spacingAndGlyphs">T</text>
<path d="M433.3 489.7 h21.9 M433.3 496 h21.9" stroke="#000" stroke-width="1.8" fill="none"/>
<text x="465.9" y="500.5" font-size="31.5" textLength="55.5" lengthAdjust="spacingAndGlyphs">50.2</text>
<path d="M523.5 508.5 L534.5 476.9" stroke="#000" stroke-width="1.7" fill="none"/>
<text x="536.4" y="500.5" font-size="33" font-style="italic">g</text>
<text x="684.7" y="423.7" font-size="33" font-style="italic" textLength="21" lengthAdjust="spacingAndGlyphs">T</text>
<path d="M718.6 412.9 h21.9 M718.6 419.2 h21.9" stroke="#000" stroke-width="1.8" fill="none"/>
<text x="751.2" y="423.7" font-size="31.5" textLength="55.5" lengthAdjust="spacingAndGlyphs">24.4</text>
<path d="M808.8 431.7 L819.8 400.1" stroke="#000" stroke-width="1.7" fill="none"/>
<text x="821.7" y="423.7" font-size="33" font-style="italic">g</text>
<text x="684.7" y="462.1" font-size="33" font-style="italic" textLength="21" lengthAdjust="spacingAndGlyphs">T</text>
<path d="M718.6 451.3 h21.9 M718.6 457.6 h21.9" stroke="#000" stroke-width="1.8" fill="none"/>
<text x="751.2" y="462.1" font-size="31.5" textLength="55.5" lengthAdjust="spacingAndGlyphs">37.8</text>
<path d="M808.8 470.1 L819.8 438.5" stroke="#000" stroke-width="1.7" fill="none"/>
<text x="821.7" y="462.1" font-size="33" font-style="italic">g</text>
<text x="684.7" y="500.5" font-size="33" font-style="italic" textLength="21" lengthAdjust="spacingAndGlyphs">T</text>
<path d="M718.6 489.7 h21.9 M718.6 496 h21.9" stroke="#000" stroke-width="1.8" fill="none"/>
<text x="751.2" y="500.5" font-size="31.5" textLength="55.5" lengthAdjust="spacingAndGlyphs">50.2</text>
<path d="M808.8 508.5 L819.8 476.9" stroke="#000" stroke-width="1.7" fill="none"/>
<text x="821.7" y="500.5" font-size="33" font-style="italic">g</text>
</g>
<text x="173.7" y="107" font-size="59.5" textLength="16.1" lengthAdjust="spacingAndGlyphs">(</text>
<text x="192.3" y="106.4" font-size="55" textLength="27" lengthAdjust="spacingAndGlyphs">a</text>
<text x="219.4" y="107" font-size="59.5" textLength="16.1" lengthAdjust="spacingAndGlyphs">)</text>
<text x="174.6" y="831.8" font-size="59.5" textLength="16.1" lengthAdjust="spacingAndGlyphs">(</text>
<text x="192" y="831.2" font-size="55" textLength="30" lengthAdjust="spacingAndGlyphs">b</text>
<text x="222.9" y="831.8" font-size="59.5" textLength="16.1" lengthAdjust="spacingAndGlyphs">)</text>
</g>
<g font-family="'Liberation Sans', sans-serif" font-size="43.5" fill="#262626">
<text x="58.47" y="30.8" textLength="81.43" lengthAdjust="spacingAndGlyphs">1.00</text>
<text x="58.47" y="138.04" textLength="81.43" lengthAdjust="spacingAndGlyphs">0.98</text>
<text x="58.47" y="245.28" textLength="81.43" lengthAdjust="spacingAndGlyphs">0.96</text>
<text x="58.47" y="352.52" textLength="81.43" lengthAdjust="spacingAndGlyphs">0.94</text>
<text x="58.47" y="459.76" textLength="81.43" lengthAdjust="spacingAndGlyphs">0.92</text>
<text x="58.47" y="567" textLength="81.43" lengthAdjust="spacingAndGlyphs">0.90</text>
<text x="117.15" y="607" textLength="72.1" lengthAdjust="spacingAndGlyphs">-0.2</text>
<text x="328.22" y="607" textLength="72.1" lengthAdjust="spacingAndGlyphs">-0.1</text>
<text x="546.37" y="607" textLength="58.17" lengthAdjust="spacingAndGlyphs">0.0</text>
<text x="757.44" y="607" textLength="58.17" lengthAdjust="spacingAndGlyphs">0.1</text>
<text x="968.52" y="607" textLength="58.17" lengthAdjust="spacingAndGlyphs">0.2</text>
<text x="56.37" y="755.4" textLength="81.43" lengthAdjust="spacingAndGlyphs">1.00</text>
<text x="56.37" y="860.36" textLength="81.43" lengthAdjust="spacingAndGlyphs">0.98</text>
<text x="56.37" y="965.32" textLength="81.43" lengthAdjust="spacingAndGlyphs">0.96</text>
<text x="56.37" y="1070.28" textLength="81.43" lengthAdjust="spacingAndGlyphs">0.94</text>
<text x="56.37" y="1175.24" textLength="81.43" lengthAdjust="spacingAndGlyphs">0.92</text>
<text x="56.37" y="1280.2" textLength="81.43" lengthAdjust="spacingAndGlyphs">0.90</text>
<text x="115.05" y="1319.9" textLength="72.1" lengthAdjust="spacingAndGlyphs">-0.2</text>
<text x="326.15" y="1319.9" textLength="72.1" lengthAdjust="spacingAndGlyphs">-0.1</text>
<text x="544.32" y="1319.9" textLength="58.17" lengthAdjust="spacingAndGlyphs">0.0</text>
<text x="755.42" y="1319.9" textLength="58.17" lengthAdjust="spacingAndGlyphs">0.1</text>
<text x="966.52" y="1319.9" textLength="58.17" lengthAdjust="spacingAndGlyphs">0.2</text>
</g>
<g font-family="'Liberation Serif', serif" fill="#262626" stroke="#262626" stroke-width="0.35">
<text transform="translate(34 507.2) rotate(-90)" font-size="45" textLength="279.5" lengthAdjust="spacingAndGlyphs">Entanglement</text>
<text transform="translate(34 199.7) rotate(-90)" font-size="45" textLength="141.5" lengthAdjust="spacingAndGlyphs">Fidelity</text>
<text transform="translate(34 1224.3) rotate(-90)" font-size="45" textLength="279.5" lengthAdjust="spacingAndGlyphs">Entanglement</text>
<text transform="translate(34 916.8) rotate(-90)" font-size="45" textLength="141.5" lengthAdjust="spacingAndGlyphs">Fidelity</text>
<text x="503.5" y="657.8" font-size="47" font-style="italic" textLength="20" lengthAdjust="spacingAndGlyphs">&#948;</text>
<text x="525.5" y="657.8" font-size="47" textLength="34.7" lengthAdjust="spacingAndGlyphs">&#937;</text>
<text x="559.8" y="665.4" font-size="32" textLength="16" lengthAdjust="spacingAndGlyphs">0</text>
<path d="M580.9 668.9 L597.2 624.4" stroke="#262626" stroke-width="2.2" fill="none"/>
<text x="600.1" y="657.8" font-size="47" textLength="34.7" lengthAdjust="spacingAndGlyphs">&#937;</text>
<text x="634" y="665.4" font-size="32" textLength="16" lengthAdjust="spacingAndGlyphs">0</text>
<text x="519.3" y="1371" font-size="47" font-style="italic" textLength="19" lengthAdjust="spacingAndGlyphs">&#948;</text>
<text x="538.6" y="1370.5" font-size="46" font-style="italic" textLength="31.65" lengthAdjust="spacingAndGlyphs">T</text>
<path d="M575.6 1383.5 L592.9 1336.4" stroke="#262626" stroke-width="2.2" fill="none"/>
<text x="593.5" y="1370.5" font-size="46" font-style="italic" textLength="31.65" lengthAdjust="spacingAndGlyphs">T</text>
</g>
</svg>
</body></html>
